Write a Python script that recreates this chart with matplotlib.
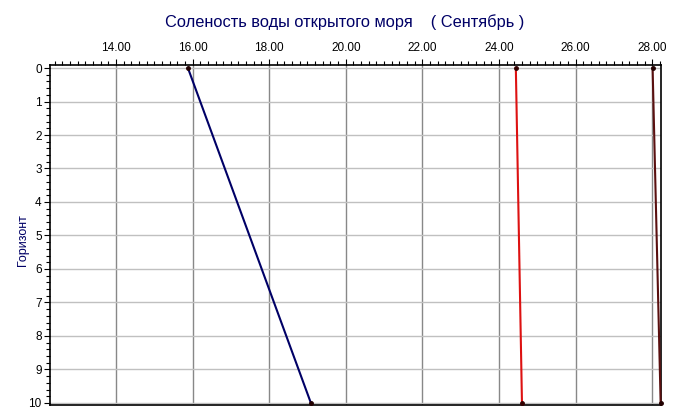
import numpy as np
import matplotlib
matplotlib.use("Agg")
import matplotlib.pyplot as plt
from matplotlib.ticker import MultipleLocator, FormatStrFormatter

plt.rcParams['font.family'] = ['Liberation Sans', 'DejaVu Sans']

# horizon levels and salinity at top / bottom of each profile
horizons = [0, 10]
salinity_blue = [15.88, 19.09]
salinity_red = [24.44, 24.60]
salinity_dark = [28.01, 28.22]

title = "Соленость воды открытого моря    ( Сентябрь )"
ylabel = "Горизонт"

fig = plt.figure(figsize=(6.75, 4.19), dpi=100)
ax = fig.add_axes([0.0741, 0.0334, 0.9052, 0.8115])

ax.plot(salinity_blue, horizons, color="#000066", lw=1.5, marker="o", ms=2.5,
        mfc="#220000", mec="#220000", zorder=3)
ax.plot(salinity_red, horizons, color="#dd1111", lw=1.5, marker="o", ms=2.5,
        mfc="#330000", mec="#330000", zorder=3)
ax.plot(salinity_dark, horizons, color="#5a1010", lw=1.5, marker="o", ms=2.5,
        mfc="#220000", mec="#220000", zorder=3, clip_on=False)

ax.set_xlim(12.28, 28.23)
ax.set_ylim(10.06, -0.09)

ax.xaxis.set_major_locator(MultipleLocator(2))
ax.xaxis.set_minor_locator(MultipleLocator(0.2))
ax.xaxis.set_major_formatter(FormatStrFormatter("%.2f"))
ax.yaxis.set_major_locator(MultipleLocator(1))
ax.yaxis.set_minor_locator(MultipleLocator(0.2))

ax.xaxis.tick_top()
ax.tick_params(axis="x", which="major", top=True, bottom=False, length=4, width=0.8,
               labelsize=8.5, pad=4, direction="out")
ax.tick_params(axis="x", which="minor", top=True, bottom=False, length=3, width=0.8,
               direction="out")
ax.tick_params(axis="y", which="major", left=True, right=False, length=4, width=0.8,
               labelsize=8.5, pad=2, direction="out")
ax.tick_params(axis="y", which="minor", left=True, right=False, length=3, width=0.8,
               direction="out")

ax.grid(axis="x", which="major", color="#888888", lw=1.0)
ax.grid(axis="y", which="major", color="#c0c0c0", lw=1.0)
ax.set_axisbelow(True)

for s in ax.spines.values():
    s.set_linewidth(1.2)
    s.set_color("black")

ax.set_ylabel(ylabel, color="#000066", fontsize=9)
ax.yaxis.set_label_coords(-0.034, 0.485)
fig.text(0.511, 0.947, title, color="#000066", fontsize=11.8, ha="center", va="center")

fig.savefig("out.png", dpi=100)
